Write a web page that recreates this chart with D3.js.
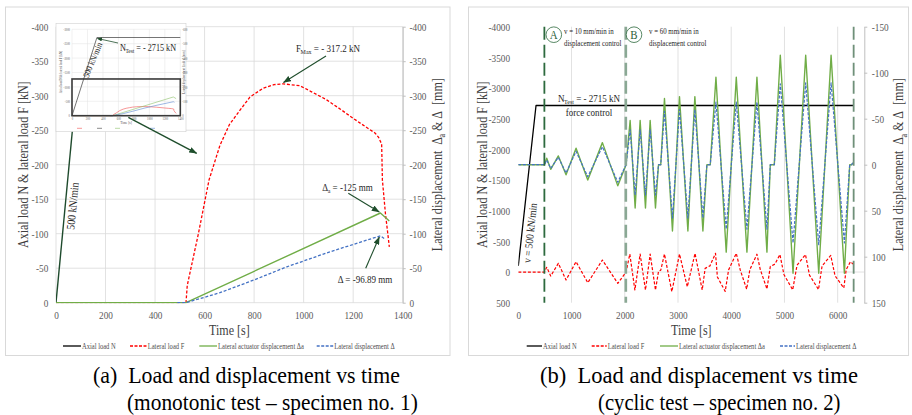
<!DOCTYPE html>
<html><head><meta charset="utf-8">
<script src="https://cdn.jsdelivr.net/npm/d3@7"></script>
<style>
body{margin:0;background:#fff}
svg{display:block}
text, tspan{font-family:"Liberation Serif","Times New Roman",serif}
</style>
</head><body>
<svg id="c" width="912" height="415"></svg>
<script>
// ===================== DATA =====================
// Panel (a): monotonic test – specimen no. 1
const monoTimeTicks = [0, 200, 400, 600, 800, 1000, 1200, 1400];
const monoLoadTicks = [-400, -350, -300, -250, -200, -150, -100, -50, 0];
const monoDispTicks = [-400, -350, -300, -250, -200, -150, -100, -50, 0];
const monoAxialN = [[0, 0], [106, -400]];
const monoLateralF = [[0, 0], [525, 0], [530, -25], [575, -100], [618, -178], [662, -228], [700, -258], [743, -279],
  [783, -298], [837, -311], [880, -316], [918, -317.2], [985, -314.5], [1030, -306], [1093, -294], [1150, -280],
  [1201, -267], [1250, -255], [1288, -246], [1302, -240], [1315, -230], [1318, -178], [1330, -130], [1346, -81]];
const monoActuatorDa = [[0, 0], [525, 0], [1310, -130], [1346, -118.4]];
const monoDisplD = [[490, 0], [525, 0], [662, -14.5], [800, -33], [932, -52], [1100, -73], [1310, -96.9], [1325, -93]];
// inset of panel (a)
const insetTimeTicks = [0, 200, 400, 600, 800, 1000, 1200, 1400];
const insetLoadTicks = [-3000, -2500, -2000, -1500, -1000, -500, 0];
const insetDispTicks = [-600, -500, -400, -300, -200, -100, 0];
const insetAxialN = [[0, 0], [322, -2715], [1400, -2715]];
const insetZoomBox = [[0, -1275], [1400, 0]];

// Panel (b): cyclic test – specimen no. 2
const cycTimeTicks = [0, 1000, 2000, 3000, 4000, 5000, 6000];
const cycLoadTicks = [-4000, -3500, -3000, -2500, -2000, -1500, -1000, -500, 0, 500];
const cycDispTicks = [-150, -100, -50, 0, 50, 100, 150];
const cycAxialN = [[0, -100], [333, -2715], [6290, -2715]];
const cycLateralF = [[0, 0], [490, 0], [534, -77], [609, 65], [752, -142], [897, 130], [1085, -168], [1305, 174],
  [1580, -196], [1869, 185], [2025, 0], [2095, -293], [2190, 293], [2289, -293], [2389, 293], [2477, -293],
  [2577, 293], [2634, -10], [2676, -30], [2746, -293], [2884, 320], [3028, -293], [3175, 240], [3320, -305],
  [3455, 293], [3510, -60], [3600, -100], [3705, -305], [3740, 80], [3887, 315], [3950, -33], [4095, -305],
  [4170, -33], [4290, 280], [4350, -40], [4483, -290], [4546, -40], [4671, 275], [4734, -90], [4822, -130],
  [4915, -285], [4990, 40], [5155, 290], [5236, -110], [5395, -285], [5470, 50], [5640, 285], [5707, -100],
  [5870, -270], [5950, 60], [6115, 260], [6160, -40], [6240, -168], [6289, -130]];
const cycActuatorDa = [[0, 0], [490, 0], [534, -7], [609, 5], [752, -9.5], [897, 11], [1085, -18], [1305, 16.6],
  [1580, -24], [1869, 23], [2025, 0], [2101, -48], [2195, 47], [2289, -48], [2389, 47], [2477, -48], [2577, 47],
  [2634, 0], [2676, 0], [2746, -72], [2896, 72], [3028, -74], [3186, 72], [3317, -74], [3468, 72], [3543, 0],
  [3606, 0], [3713, -95], [3906, 95], [4095, -95], [4295, 95], [4483, -95], [4671, 95], [4734, 0], [4809, 0],
  [4922, -119], [5161, 118], [5399, -119], [5644, 118], [5876, -119], [6126, 118], [6226, 0], [6260, 0], [6289, -2]];
const cycDisplD = [[0, 0], [490, 0], [534, -5], [609, 4], [752, -8], [897, 9], [1085, -14.5], [1305, 13],
  [1580, -19.5], [1869, 19], [2025, 0], [2101, -38], [2195, 33], [2289, -38], [2389, 33], [2477, -38], [2577, 33],
  [2634, 0], [2676, 0], [2746, -58], [2896, 58], [3028, -60], [3186, 58], [3317, -60], [3468, 58], [3543, 0],
  [3606, 0], [3713, -68], [3906, 70], [4095, -68], [4295, 70], [4483, -68], [4671, 70], [4734, 0], [4809, 0],
  [4922, -88], [5161, 85], [5399, -89], [5644, 87], [5876, -89], [6126, 85], [6226, 0], [6260, 0], [6289, -2]];
const cycPhaseLines = [490, 2020, 6300];

const legendLabels = ["Axial load N", "Lateral load F", "Lateral actuator displacement \u0394a", "Lateral displacement \u0394"];
const captionA = ["(a)\u00a0\u00a0Load and displacement vs time", "(monotonic test \u2013 specimen no. 1)"];
const captionB = ["(b)\u00a0\u00a0Load and displacement vs time", "(cyclic test \u2013 specimen no. 2)"];

// ===================== STYLE =====================
const FONT = '"Liberation Serif","Times New Roman",serif';
const C = { N: "#000", F: "#ff0000", Da: "#70ad47", D: "#4472c4", grid: "#d9d9d9", tick: "#595959",
  title: "#404040", arrow: "#1f4e2c", dark: "#262626" };
const SX = 0.86;
const svg = d3.select("#c");

const defs = svg.append("defs");
defs.append("marker").attr("id", "arr").attr("markerUnits", "userSpaceOnUse")
  .attr("markerWidth", 8).attr("markerHeight", 6).attr("refX", 7.5).attr("refY", 3).attr("orient", "auto")
  .append("path").attr("d", "M0,0 L8,3 L0,6 Z").attr("fill", C.arrow);
defs.append("marker").attr("id", "arrS").attr("markerUnits", "userSpaceOnUse")
  .attr("markerWidth", 5).attr("markerHeight", 4).attr("refX", 4.5).attr("refY", 2).attr("orient", "auto")
  .append("path").attr("d", "M0,0 L5,2 L0,4 Z").attr("fill", C.arrow);

function txt(g, x, y, parts, o = {}) {
  const size = o.size || 10;
  const t = g.append("text")
    .attr("transform", `translate(${x},${y}) rotate(${o.rot || 0}) scale(${o.sx ?? SX},1)`)
    .attr("text-anchor", o.anchor || "middle")
    .attr("dy", o.dy ?? "0.35em")
    .attr("fill", o.fill || C.title)
    .style("font-family", FONT)
    .style("font-size", size + "px");
  if (typeof parts === "string") parts = [[parts]];
  let shifted = false;
  const sh = size * 0.22;
  parts.forEach(([s, sub]) => {
    const ts = t.append("tspan").text(s);
    if (sub) { ts.style("font-size", (size * 0.66) + "px").attr("dy", sh).attr("dx", -size * 0.05); shifted = true; }
    else if (shifted) { ts.attr("dy", -sh); shifted = false; }
  });
  return t;
}
function path(g, data, x, y, color, w, dash) {
  return g.append("path").datum(data).attr("fill", "none").attr("stroke", color).attr("stroke-width", w)
    .attr("stroke-dasharray", dash || null).attr("stroke-linejoin", "round")
    .attr("d", d3.line().x(d => x(d[0])).y(d => y(d[1])));
}
function arrow(g, x1, y1, x2, y2, w, m) {
  g.append("line").attr("x1", x1).attr("y1", y1).attr("x2", x2).attr("y2", y2)
    .attr("stroke", C.arrow).attr("stroke-width", w).attr("marker-end", `url(#${m || "arr"})`);
}
function styleTicks(gAx, dx, dy, anchor, size, sx) {
  gAx.attr("font-family", null).attr("font-size", null);
  gAx.select(".domain").remove();
  gAx.selectAll(".tick line").remove();
  gAx.selectAll("text").attr("x", null).attr("y", null).attr("dy", "0.35em")
    .attr("text-anchor", anchor).attr("fill", C.tick)
    .attr("transform", `translate(${dx},${dy}) scale(${sx ?? 0.88},1)`)
    .style("font-family", FONT).style("font-size", size + "px");
}
function legend(g, items, y) {
  items.forEach((it, i) => {
    g.append("line").attr("x1", it[0]).attr("x2", it[1]).attr("y1", y).attr("y2", y)
      .attr("stroke", it[2]).attr("stroke-width", 1.3).attr("stroke-dasharray", it[3] || null);
    txt(g, it[1] + 1, y, legendLabels[i], { anchor: "start", size: 7.6, fill: "#4d4d4d" });
  });
}
const fmt = d => String(d);

// ===================== PANEL (a) =====================
const gA = svg.append("g");
gA.append("rect").attr("x", 5.5).attr("y", 7).attr("width", 444.5).attr("height", 348.5)
  .attr("fill", "#fff").attr("stroke", "#d9d9d9");
const xA = d3.scaleLinear([0, 1400], [56, 402.7]);
const yAL = d3.scaleLinear([-400, 0], [26.7, 302.7]);
const yAR = d3.scaleLinear([-400, 0], [26.7, 302.7]);

const gridA = gA.append("g").attr("stroke", C.grid).attr("stroke-width", 0.8);
gridA.selectAll("line.h").data(monoLoadTicks).join("line").attr("class", "h")
  .attr("x1", xA(0)).attr("x2", xA(1400)).attr("y1", d => yAL(d)).attr("y2", d => yAL(d));
gridA.selectAll("line.v").data(monoTimeTicks).join("line").attr("class", "v")
  .attr("y1", yAL(-400)).attr("y2", yAL(0)).attr("x1", d => xA(d)).attr("x2", d => xA(d));

styleTicks(gA.append("g").attr("transform", `translate(${xA(0)},0)`)
  .call(d3.axisLeft(yAL).tickValues(monoLoadTicks).tickFormat(fmt)), -7.7, 0, "end", 10.5);
styleTicks(gA.append("g").attr("transform", `translate(0,${yAL(0)})`)
  .call(d3.axisBottom(xA).tickValues(monoTimeTicks).tickFormat(fmt)), 0, 12.5, "middle", 10.5);
const rA = gA.append("g").attr("transform", `translate(${xA(1400)},0)`)
  .call(d3.axisRight(yAR).tickValues(monoDispTicks).tickFormat(fmt).tickSize(3).tickSizeOuter(0));
rA.attr("font-family", null).attr("font-size", null);
rA.select(".domain").attr("stroke", "#bfbfbf");
rA.selectAll(".tick line").attr("stroke", "#bfbfbf");
rA.selectAll("text").attr("x", null).attr("dy", "0.35em").attr("fill", C.tick)
  .attr("transform", "translate(6.8,0) scale(0.88,1)").style("font-family", FONT).style("font-size", "10.5px");

const clipA = defs.append("clipPath").attr("id", "clipA");
clipA.append("rect").attr("x", 56).attr("y", 26.7).attr("width", 347).attr("height", 276.5);
const pA = gA.append("g").attr("clip-path", "url(#clipA)");
path(pA, monoAxialN, xA, yAL, "#1e4a2c", 1.4);
path(pA, monoLateralF, xA, yAL, C.F, 1.3, "3,1.8");
path(pA, monoActuatorDa, xA, yAR, C.Da, 1.4);
path(pA, monoDisplD, xA, yAR, C.D, 1.3, "3,1.8");

txt(gA, 72.5, 206, "500 kN/min", { rot: -84.6, size: 11.5, fill: C.dark });

// axis titles
txt(gA, 23, (yAL(-400) + yAL(0)) / 2, "Axial load N & lateral load F [kN]", { rot: -90, size: 14.5, sx: 0.83 });
txt(gA, 437, (yAL(-400) + yAL(0)) / 2, [["Lateral displacement\u00a0\u00a0\u0394"], ["a", 1], [" & \u0394\u00a0\u00a0[mm]"]], { rot: -90, size: 14.5, sx: 0.83 });
txt(gA, (xA(0) + xA(1400)) / 2, 330, "Time [s]", { size: 14.5, sx: 0.83 });

// annotations
txt(gA, 328, 48.5, [["F"], ["Max", 1], [" = - 317.2 kN"]], { size: 10.5, fill: C.dark });
arrow(gA, 326, 56, 283.5, 82.5, 1.1);
txt(gA, 347.5, 187, [["\u0394"], ["a", 1], [" = -125 mm"]], { size: 10.5, fill: C.dark });
arrow(gA, 348.3, 193.3, 379.3, 212, 1.1);
txt(gA, 365, 279, "\u0394 = -96.89 mm", { size: 10.5, fill: C.dark });
arrow(gA, 365.7, 268.3, 379.3, 237, 1.1);

// inset
const inset = gA.append("g");
inset.append("rect").attr("x", 56).attr("y", 23.3).attr("width", 130).attr("height", 108.4)
  .attr("fill", "#fff").attr("stroke", "#d0d0d0").attr("stroke-width", 0.6);
const xI = d3.scaleLinear([0, 1400], [72, 180.3]);
const yIL = d3.scaleLinear([-3000, 0], [29.3, 115.7]);
const yIR = d3.scaleLinear([-600, 0], [29.3, 115.7]);
const gridI = inset.append("g").attr("stroke", "#e3e3e3").attr("stroke-width", 0.5);
gridI.selectAll("line.h").data(insetLoadTicks).join("line").attr("class", "h")
  .attr("x1", xI(0)).attr("x2", xI(1400)).attr("y1", d => yIL(d)).attr("y2", d => yIL(d));
gridI.selectAll("line.v").data(insetTimeTicks).join("line").attr("class", "v")
  .attr("y1", yIL(-3000)).attr("y2", yIL(0)).attr("x1", d => xI(d)).attr("x2", d => xI(d));
styleTicks(inset.append("g").attr("transform", `translate(${xI(0)},0)`)
  .call(d3.axisLeft(yIL).tickValues(insetLoadTicks).tickFormat(fmt)), -2, 0, "end", 3.2);
styleTicks(inset.append("g").attr("transform", `translate(${xI(1400)},0)`)
  .call(d3.axisRight(yIR).tickValues(insetDispTicks).tickFormat(fmt)), 2, 0, "start", 3.2);
styleTicks(inset.append("g").attr("transform", `translate(0,${yIL(0)})`)
  .call(d3.axisBottom(xI).tickValues(insetTimeTicks).tickFormat(fmt)), 0, 3, "middle", 3.2);
path(inset, insetAxialN, xI, yIL, "#3a3a3a", 0.7);
path(inset, monoLateralF, xI, yIL, "#f05050", 0.6);
path(inset, monoActuatorDa, xI, yIR, "#8cc068", 0.6);
path(inset, monoDisplD, xI, yIR, "#5b86d0", 0.6);
inset.append("rect").attr("x", xI(insetZoomBox[0][0])).attr("y", yIL(insetZoomBox[0][1]))
  .attr("width", xI(insetZoomBox[1][0]) - xI(insetZoomBox[0][0]))
  .attr("height", yIL(insetZoomBox[1][1]) - yIL(insetZoomBox[0][1]))
  .attr("fill", "none").attr("stroke", "#3a3a3a").attr("stroke-width", 1.6);
txt(inset, 61, 72, "Axial load N & lateral load F [kN]", { rot: -90, size: 3.6, fill: "#555" });
txt(inset, 184, 72, "Lateral displacement \u0394a & \u0394 [mm]", { rot: -90, size: 3.6, fill: "#555" });
txt(inset, 126, 123, "Time [s]", { size: 4, fill: "#555" });
[[77, 82, "#f05050"], [97, 102, "#3a3a3a"], [115, 120, "#8cc068"], [150, 155, "#5b86d0"]]
  .forEach(it => {
    inset.append("line").attr("x1", it[0]).attr("x2", it[1]).attr("y1", 128.3).attr("y2", 128.3).attr("stroke", it[2]).attr("stroke-width", 0.6);
  });
txt(inset, 92.5, 60, "500 kN/min", { rot: -67.7, size: 9, fill: C.dark });
txt(inset, 148, 47.7, [["N"], ["Test", 1], [" = - 2715 kN"]], { size: 9.5, fill: C.dark });
arrow(inset, 118, 43, 97.5, 38.5, 0.8, "arrS");
arrow(gA, 128.3, 117.3, 196.7, 153.3, 1.4);

legend(gA, [[63, 81, C.N], [130, 146.7, C.F, "3,1.5"], [199.3, 217, C.Da], [316.7, 333.3, C.D, "3,1.5"]], 346);

// ===================== PANEL (b) =====================
const gB = svg.append("g");
gB.append("rect").attr("x", 468.5).attr("y", 7).attr("width", 440).attr("height", 348.5)
  .attr("fill", "#fff").attr("stroke", "#d9d9d9");
const xB = d3.scaleLinear([0, 6500], [518.3, 864.3]);
const yBL = d3.scaleLinear([-4000, 500], [26.7, 302.7]);
const yBR = d3.scaleLinear([-150, 150], [26.7, 302.7]);

const gridB = gB.append("g").attr("stroke", C.grid).attr("stroke-width", 0.8);
gridB.selectAll("line.v").data(cycTimeTicks.filter(d => d > 0)).join("line").attr("class", "v")
  .attr("y1", yBL(-4000)).attr("y2", yBL(500)).attr("x1", d => xB(d)).attr("x2", d => xB(d));
gridB.append("line").attr("x1", xB(0)).attr("x2", xB(6500)).attr("y1", yBL(0)).attr("y2", yBL(0));

styleTicks(gB.append("g").attr("transform", `translate(${xB(0)},0)`)
  .call(d3.axisLeft(yBL).tickValues(cycLoadTicks).tickFormat(fmt)), -8.3, 0, "end", 10.5);
styleTicks(gB.append("g").attr("transform", `translate(0,${yBL(500)})`)
  .call(d3.axisBottom(xB).tickValues(cycTimeTicks).tickFormat(fmt)), 0, 12.5, "middle", 10.5);
const rB = gB.append("g").attr("transform", `translate(${xB(6500)},0)`)
  .call(d3.axisRight(yBR).tickValues(cycDispTicks).tickFormat(fmt).tickSize(3).tickSizeOuter(0));
rB.attr("font-family", null).attr("font-size", null);
rB.select(".domain").attr("stroke", "#bfbfbf");
rB.selectAll(".tick line").attr("stroke", "#bfbfbf");
rB.selectAll("text").attr("x", null).attr("dy", "0.35em").attr("fill", C.tick)
  .attr("transform", "translate(7.4,0) scale(0.88,1)").style("font-family", FONT).style("font-size", "10.5px");

const clipB = defs.append("clipPath").attr("id", "clipB");
clipB.append("rect").attr("x", 518.3).attr("y", 20).attr("width", 346).attr("height", 290);
const pB = gB.append("g").attr("clip-path", "url(#clipB)");
path(pB, cycAxialN, xB, yBL, C.N, 1.3);
path(pB, cycLateralF, xB, yBL, C.F, 1.2, "3,1.8");
path(pB, cycActuatorDa, xB, yBR, C.Da, 1.4);
path(pB, cycDisplD, xB, yBR, C.D, 1.2, "3,1.5");

const phaseColors = ["#2d6a3e", "#8aa894", "#6f9079"];
const phaseWidths = [1.8, 2.6, 1.8];
gB.selectAll("line.ph").data(cycPhaseLines).join("line").attr("class", "ph")
  .attr("x1", d => xB(d)).attr("x2", d => xB(d)).attr("y1", yBL(-4000)).attr("y2", yBL(500))
  .attr("stroke", (d, i) => phaseColors[i]).attr("stroke-width", (d, i) => phaseWidths[i])
  .attr("stroke-dasharray", "13,5");

// phase labels
[["A", 553.8, 564], ["B", 634, 649]].forEach(([L, cx, tx], i) => {
  gB.append("circle").attr("cx", cx).attr("cy", 34.7).attr("r", 7.8).attr("fill", "#fff")
    .attr("stroke", "#2d6a3e").attr("stroke-width", 0.8);
  txt(gB, cx, 35, L, { size: 11.5, fill: "#2d5e3a", sx: 0.95 });
  txt(gB, tx, 31, i === 0 ? "v = 10 mm/min in" : "v = 60 mm/min in", { anchor: "start", size: 8, fill: C.dark });
  txt(gB, tx, 43.3, "displacement control", { anchor: "start", size: 8, fill: C.dark });
});
txt(gB, 589, 98.5, [["N"], ["Test", 1], [" = - 2715 kN"]], { size: 10.5, fill: C.dark });
txt(gB, 589, 112, "force control", { size: 10.5, fill: C.dark });
txt(gB, 530, 233, "v = 500 kN/min", { rot: -83.7, size: 11, fill: C.dark });

txt(gB, 481.7, (yBL(-4000) + yBL(500)) / 2, "Axial load N & lateral load F [kN]", { rot: -90, size: 14.5, sx: 0.83 });
txt(gB, 898.3, (yBL(-4000) + yBL(500)) / 2, [["Lateral displacement\u00a0\u00a0\u0394"], ["a", 1], [" & \u0394\u00a0\u00a0[mm]"]], { rot: -90, size: 14.5, sx: 0.83 });
txt(gB, (xB(0) + xB(6500)) / 2, 330, "Time [s]", { size: 14.5, sx: 0.83 });

legend(gB, [[526.7, 542, C.N], [591.7, 606.7, C.F, "3,1.5"], [660, 678, C.Da], [780, 795, C.D, "3,1.5"]], 346);

// ===================== CAPTIONS =====================
txt(svg, 93, 375, captionA[0], { anchor: "start", size: 23, sx: 0.95, fill: "#000" });
txt(svg, 127, 402, captionA[1], { anchor: "start", size: 23, sx: 0.93, fill: "#000" });
txt(svg, 540, 375, captionB[0], { anchor: "start", size: 23, sx: 0.98, fill: "#000" });
txt(svg, 598, 402, captionB[1], { anchor: "start", size: 23, sx: 0.9, fill: "#000" });
</script>
</body></html>
